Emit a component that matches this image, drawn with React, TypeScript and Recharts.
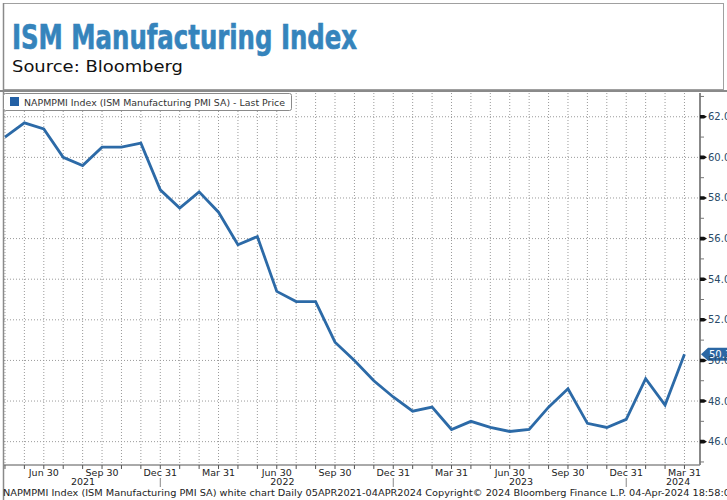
import React from 'react';
import { LineChart, Line, XAxis, YAxis, CartesianGrid, ReferenceDot } from 'recharts';

const months = [
  '2021-04', '2021-05', '2021-06', '2021-07', '2021-08', '2021-09', '2021-10', '2021-11', '2021-12',
  '2022-01', '2022-02', '2022-03', '2022-04', '2022-05', '2022-06', '2022-07', '2022-08', '2022-09',
  '2022-10', '2022-11', '2022-12', '2023-01', '2023-02', '2023-03', '2023-04', '2023-05', '2023-06',
  '2023-07', '2023-08', '2023-09', '2023-10', '2023-11', '2023-12', '2024-01', '2024-02', '2024-03',
];
const pmi = [
  61.0, 61.7, 61.4, 60.0, 59.6, 60.5, 60.5, 60.7, 58.4,
  57.5, 58.3, 57.3, 55.7, 56.1, 53.4, 52.9, 52.9, 50.9,
  50.0, 49.0, 48.2, 47.5, 47.7, 46.6, 47.0, 46.7, 46.5,
  46.6, 47.7, 48.6, 46.9, 46.7, 47.1, 49.1, 47.8, 50.3,
];
const quarterLabels: Record<string, string> = { '03': 'Mar 31', '06': 'Jun 30', '09': 'Sep 30', '12': 'Dec 31' };
const years = ['2021', '2022', '2023', '2024'];
const yTicks = [45, 46, 47, 48, 49, 50, 51, 52, 53, 54, 55, 56, 57, 58, 59, 60, 61, 62, 63];
const yGridValues = [46, 48, 50, 52, 54, 56, 58, 60, 62];
const yDomain: [number, number] = [44.85, 63.17];
const xDomain: [number, number] = [-0.05, 35.8];

const titleText = 'ISM Manufacturing Index';
const sourceText = 'Source: Bloomberg';
const legendText = 'NAPMPMI Index (ISM Manufacturing PMI SA) - Last Price';
const footerText = 'NAPMPMI Index (ISM Manufacturing PMI SA) white chart  Daily 05APR2021-04APR2024 Copyright\u00A9 2024 Bloomberg Finance L.P. 04-Apr-2024 18:58:0';

const data = months.map((m, i) => ({ i, m, v: pmi[i] }));
const monthTicks = months.map((_, i) => i);

// year label positions: centre of each year's span between Dec 31 marks (clamped to the domain)
const yearCenters = years.map((y) => {
  const prevDec = months.indexOf(`${Number(y) - 1}-12`);
  const dec = months.indexOf(`${y}-12`);
  const start = prevDec >= 0 ? prevDec : xDomain[0];
  const end = dec >= 0 ? dec : xDomain[1];
  return (start + end) / 2;
});

const FONT = '"DejaVu Sans", Verdana, sans-serif';
const LINE_BLUE = '#2c6aa7';

const MonthTick = (props: any) => {
  const { x, y, payload } = props;
  const m: string = months[payload.value] || '';
  const mm = m.slice(5);
  const label = quarterLabels[mm];
  return (
    <g>
      <line x1={x} x2={x} y1={y} y2={y + 4} stroke="#555" strokeWidth={1} />
      {label && (
        <text x={x} y={y + 10.5} textAnchor="middle" fontFamily={FONT} fontSize={9.5} fill="#222">
          {label}
        </text>
      )}
      {mm === '12' && <line x1={x} x2={x} y1={y + 13} y2={y + 22} stroke="#888" strokeWidth={1} />}
    </g>
  );
};

const YearTick = (props: any) => {
  const { x, y, payload } = props;
  const idx = yearCenters.indexOf(payload.value);
  return (
    <text x={x} y={y + 6} textAnchor="middle" fontFamily={FONT} fontSize={9.5} fill="#222">
      {years[idx]}
    </text>
  );
};

const YTick = (props: any) => {
  const { x, y, payload } = props;
  const v: number = payload.value;
  if (v % 2 === 0) {
    return (
      <g>
        <polygon points={`${x},${y - 1.8} ${x + 4},${y - 1.8} ${x + 7},${y} ${x + 4},${y + 1.8} ${x},${y + 1.8}`} fill="#111" />
        <text x={x + 8} y={y + 3.5} fontFamily={FONT} fontSize={10} fill="#2a4a68">
          {v.toFixed(1)}
        </text>
      </g>
    );
  }
  return <line x1={x} x2={x + 4} y1={y} y2={y} stroke="#777" strokeWidth={1} />;
};

const LastFlag = (props: any) => {
  const { cx, cy } = props;
  const last = pmi[pmi.length - 1];
  return (
    <g>
      <polygon
        points={`${cx + 1},${cy} ${cx + 8},${cy - 6.5} ${cx + 45},${cy - 6.5} ${cx + 45},${cy + 6.5} ${cx + 8},${cy + 6.5}`}
        fill="#2b67a4"
      />
      <text x={cx + 9} y={cy + 4} fontFamily={FONT} fontSize={10} fill="#fff">
        {last.toFixed(1)}
      </text>
    </g>
  );
};

export default function App() {
  return (
    <div style={{ position: 'absolute', left: 0, top: 0, width: 727, height: 500, overflow: 'hidden', background: '#fff' }}>
      <LineChart width={727} height={500} data={data} margin={{ top: 93, right: 0, bottom: 5, left: 4 }}>
        <CartesianGrid
          xAxisId="m"
          stroke="#9a9a9a"
          strokeDasharray="1 2"
          horizontalValues={yGridValues}
          verticalValues={monthTicks}
        />
        <XAxis
          xAxisId="m"
          dataKey="i"
          type="number"
          domain={xDomain}
          ticks={monthTicks}
          interval={0}
          allowDataOverflow
          height={14}
          tickSize={0}
          tickMargin={0}
          tickLine={false}
          axisLine={{ stroke: '#555', strokeWidth: 1 }}
          tick={<MonthTick />}
        />
        <XAxis
          xAxisId="y"
          type="number"
          domain={xDomain}
          ticks={yearCenters}
          interval={0}
          allowDataOverflow
          height={16}
          tickSize={0}
          tickMargin={0}
          tickLine={false}
          axisLine={false}
          tick={<YearTick />}
        />
        <YAxis
          orientation="right"
          type="number"
          domain={yDomain}
          ticks={yTicks}
          interval={0}
          allowDataOverflow
          width={27}
          tickSize={0}
          tickMargin={0}
          tickLine={false}
          axisLine={{ stroke: '#888', strokeWidth: 2 }}
          tick={<YTick />}
        />
        <Line
          xAxisId="m"
          type="linear"
          dataKey="v"
          stroke={LINE_BLUE}
          strokeWidth={2.8}
          dot={false}
          isAnimationActive={false}
        />
        <ReferenceDot
          xAxisId="m"
          x={xDomain[1]}
          y={pmi[pmi.length - 1]}
          ifOverflow="visible"
          shape={<LastFlag />}
        />
      </LineChart>
      <svg width={727} height={500} style={{ position: 'absolute', left: 0, top: 0, pointerEvents: 'none' }}>
        <rect x={3.5} y={3.5} width={720} height={86} fill="none" stroke="#a0a0a0" strokeWidth={1} />
        <line x1={0} x2={727} y1={91} y2={91} stroke="#8a8a8a" strokeWidth={2} />
        <line x1={3.5} x2={3.5} y1={3} y2={500} stroke="#8a8a8a" strokeWidth={1.5} />
        <text
          x={12}
          y={49}
          fontFamily='"Liberation Sans Narrow", "DejaVu Sans Condensed", sans-serif'
          fontWeight={700}
          fontSize={33}
          fill="#3584bc"
          stroke="#3584bc"
          strokeWidth={0.6}
          textLength={345}
          lengthAdjust="spacingAndGlyphs"
        >
          {titleText}
        </text>
        <text x={12} y={72} fontFamily={FONT} fontSize={16} fill="#111" textLength={171} lengthAdjust="spacingAndGlyphs">
          {sourceText}
        </text>
        <rect x={3.5} y={93.5} width={288} height={17} rx={2} fill="#fff" stroke="#8a8a8a" strokeWidth={1} />
        <rect x={10} y={97} width={9} height={9} fill="#2360a5" />
        <text x={24} y={105.5} fontFamily={FONT} fontSize={8.5} fill="#333" textLength={261} lengthAdjust="spacingAndGlyphs">
          {legendText}
        </text>
        <text x={3} y={496} fontFamily={FONT} fontSize={9.5} fill="#222" textLength={727} lengthAdjust="spacingAndGlyphs">
          {footerText}
        </text>
      </svg>
    </div>
  );
}
